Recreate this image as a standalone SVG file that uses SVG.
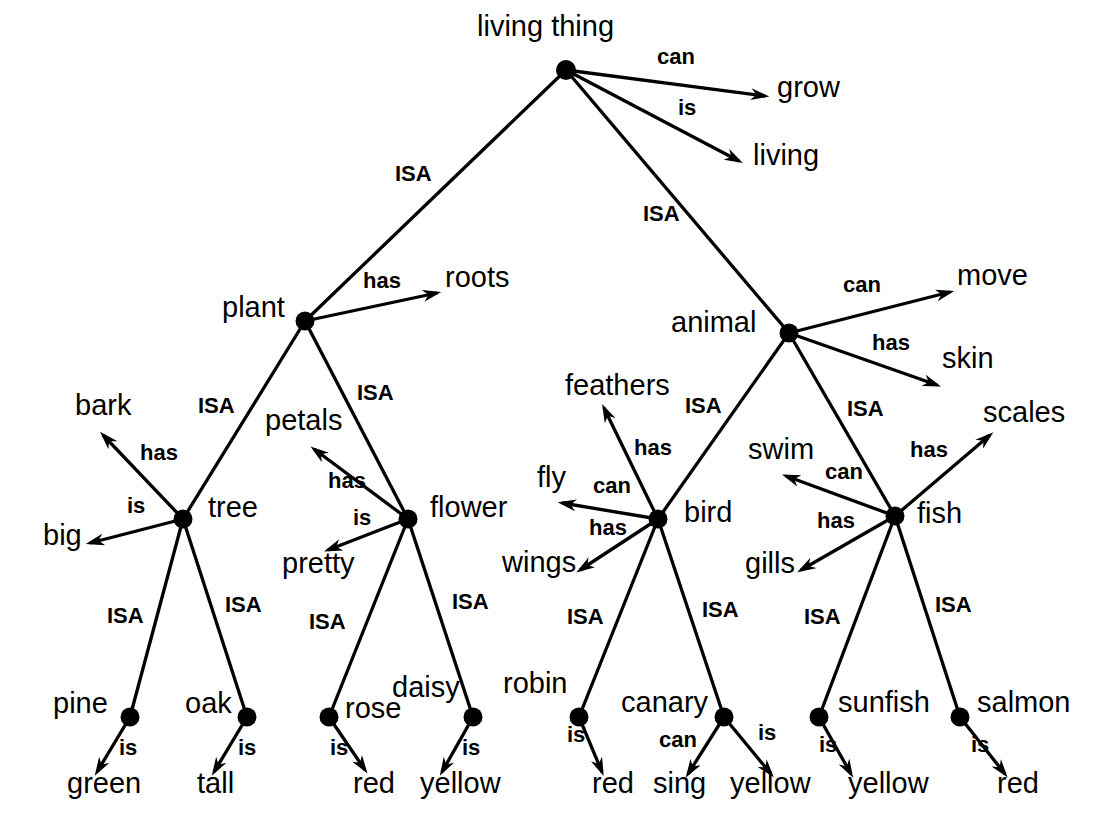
<svg xmlns="http://www.w3.org/2000/svg" width="1094" height="824" viewBox="0 0 1094 824">
<style>
.n{font-family:"Liberation Sans",Arial,sans-serif;font-size:29px;fill:#000}
.e{font-family:"Liberation Sans",Arial,sans-serif;font-size:22px;font-weight:bold;fill:#000}
.l{stroke:#000;stroke-width:3.3;fill:none}
.a{stroke:#000;stroke-width:3.3;fill:none;marker-end:url(#ar)}
.d{fill:#000}
</style>
<defs>
<marker id="ar" markerUnits="userSpaceOnUse" markerWidth="20" markerHeight="12" refX="13" refY="5.5" orient="auto" viewBox="0 0 18 11">
<path d="M0,0 L17,5.5 L0,11 L5,5.5 z" fill="#000"/>
</marker>
</defs>
<rect width="1094" height="824" fill="#fff"/>
<g id="connectors">
<line class="l" x1="566" y1="70" x2="305" y2="321"/>
<line class="l" x1="566" y1="70" x2="789" y2="333"/>
<line class="l" x1="305" y1="321" x2="183" y2="519"/>
<line class="l" x1="305" y1="321" x2="408" y2="519"/>
<line class="l" x1="789" y1="333" x2="658" y2="519"/>
<line class="l" x1="789" y1="333" x2="895" y2="516"/>
<line class="l" x1="183" y1="519" x2="130" y2="717"/>
<line class="l" x1="183" y1="519" x2="247" y2="717"/>
<line class="l" x1="408" y1="519" x2="329" y2="717"/>
<line class="l" x1="408" y1="519" x2="473" y2="717"/>
<line class="l" x1="658" y1="519" x2="579" y2="717"/>
<line class="l" x1="658" y1="519" x2="724" y2="717"/>
<line class="l" x1="895" y1="516" x2="819" y2="717"/>
<line class="l" x1="895" y1="516" x2="960" y2="717"/>
<line class="a" x1="566" y1="70" x2="765" y2="96"/>
<line class="a" x1="566" y1="70" x2="739" y2="161"/>
<line class="a" x1="305" y1="321" x2="437" y2="293"/>
<line class="a" x1="789" y1="333" x2="950" y2="292"/>
<line class="a" x1="789" y1="333" x2="937" y2="385"/>
<line class="a" x1="183" y1="519" x2="103" y2="435"/>
<line class="a" x1="183" y1="519" x2="90" y2="543"/>
<line class="a" x1="408" y1="519" x2="314" y2="449"/>
<line class="a" x1="408" y1="519" x2="328" y2="550"/>
<line class="a" x1="658" y1="519" x2="604" y2="408"/>
<line class="a" x1="658" y1="519" x2="562" y2="503"/>
<line class="a" x1="658" y1="519" x2="580" y2="570"/>
<line class="a" x1="895" y1="516" x2="990" y2="435"/>
<line class="a" x1="895" y1="516" x2="786" y2="476"/>
<line class="a" x1="895" y1="516" x2="801" y2="570"/>
<line class="a" x1="130" y1="717" x2="97" y2="772"/>
<line class="a" x1="247" y1="717" x2="214" y2="772"/>
<line class="a" x1="329" y1="717" x2="365" y2="770"/>
<line class="a" x1="473" y1="717" x2="442" y2="772"/>
<line class="a" x1="579" y1="717" x2="602" y2="772"/>
<line class="a" x1="724" y1="717" x2="688" y2="774"/>
<line class="a" x1="724" y1="717" x2="771" y2="774"/>
<line class="a" x1="819" y1="717" x2="851" y2="774"/>
<line class="a" x1="960" y1="717" x2="1005" y2="774"/>
</g>
<g id="edge-labels">
<text class="e" x="657" y="64">can</text>
<text class="e" x="678" y="115">is</text>
<text class="e" x="395" y="181">ISA</text>
<text class="e" x="643" y="221">ISA</text>
<text class="e" x="363" y="288">has</text>
<text class="e" x="843" y="292">can</text>
<text class="e" x="872" y="350">has</text>
<text class="e" x="198" y="413">ISA</text>
<text class="e" x="357" y="400">ISA</text>
<text class="e" x="685" y="413">ISA</text>
<text class="e" x="847" y="416">ISA</text>
<text class="e" x="140" y="460">has</text>
<text class="e" x="127" y="513">is</text>
<text class="e" x="328" y="488">has</text>
<text class="e" x="353" y="525">is</text>
<text class="e" x="634" y="455">has</text>
<text class="e" x="593" y="493">can</text>
<text class="e" x="589" y="535">has</text>
<text class="e" x="910" y="457">has</text>
<text class="e" x="825" y="479">can</text>
<text class="e" x="817" y="528">has</text>
<text class="e" x="107" y="623">ISA</text>
<text class="e" x="225" y="612">ISA</text>
<text class="e" x="309" y="629">ISA</text>
<text class="e" x="452" y="609">ISA</text>
<text class="e" x="567" y="624">ISA</text>
<text class="e" x="702" y="617">ISA</text>
<text class="e" x="804" y="624">ISA</text>
<text class="e" x="935" y="612">ISA</text>
<text class="e" x="119" y="755">is</text>
<text class="e" x="238" y="755">is</text>
<text class="e" x="330" y="755">is</text>
<text class="e" x="462" y="755">is</text>
<text class="e" x="567" y="742">is</text>
<text class="e" x="659" y="747">can</text>
<text class="e" x="758" y="740">is</text>
<text class="e" x="819" y="752">is</text>
<text class="e" x="971" y="752">is</text>
</g>
<g id="living-thing"><circle class="d" cx="566" cy="70" r="10"/><text class="n" x="477" y="36">living thing</text></g>
<g id="grow"><text class="n" x="777" y="97">grow</text></g>
<g id="living"><text class="n" x="753" y="165">living</text></g>
<g id="plant"><circle class="d" cx="305" cy="321" r="9.5"/><text class="n" x="222" y="317">plant</text></g>
<g id="roots"><text class="n" x="445" y="287">roots</text></g>
<g id="animal"><circle class="d" cx="789" cy="333" r="9.5"/><text class="n" x="671" y="332">animal</text></g>
<g id="move"><text class="n" x="957" y="285">move</text></g>
<g id="skin"><text class="n" x="942" y="368">skin</text></g>
<g id="tree"><circle class="d" cx="183" cy="519" r="9.5"/><text class="n" x="208" y="517">tree</text></g>
<g id="bark"><text class="n" x="75" y="415">bark</text></g>
<g id="big"><text class="n" x="43" y="545">big</text></g>
<g id="flower"><circle class="d" cx="408" cy="519" r="9.5"/><text class="n" x="430" y="517">flower</text></g>
<g id="petals"><text class="n" x="265" y="430">petals</text></g>
<g id="pretty"><text class="n" x="282" y="573">pretty</text></g>
<g id="bird"><circle class="d" cx="658" cy="519" r="9.5"/><text class="n" x="684" y="522">bird</text></g>
<g id="feathers"><text class="n" x="565" y="395">feathers</text></g>
<g id="fly"><text class="n" x="537" y="487">fly</text></g>
<g id="wings"><text class="n" x="502" y="572">wings</text></g>
<g id="fish"><circle class="d" cx="895" cy="516" r="9.5"/><text class="n" x="917" y="523">fish</text></g>
<g id="scales"><text class="n" x="983" y="422">scales</text></g>
<g id="swim"><text class="n" x="748" y="459">swim</text></g>
<g id="gills"><text class="n" x="745" y="573">gills</text></g>
<g id="pine"><circle class="d" cx="130" cy="717" r="9.5"/><text class="n" x="53" y="713">pine</text></g>
<g id="green"><text class="n" x="67" y="793">green</text></g>
<g id="oak"><circle class="d" cx="247" cy="717" r="9.5"/><text class="n" x="185" y="713">oak</text></g>
<g id="tall"><text class="n" x="197" y="793">tall</text></g>
<g id="rose"><circle class="d" cx="329" cy="717" r="9.5"/><text class="n" x="345" y="718">rose</text></g>
<g id="red1"><text class="n" x="353" y="793">red</text></g>
<g id="daisy"><circle class="d" cx="473" cy="717" r="9.5"/><text class="n" x="392" y="697">daisy</text></g>
<g id="yellow1"><text class="n" x="420" y="793">yellow</text></g>
<g id="robin"><circle class="d" cx="579" cy="717" r="9.5"/><text class="n" x="503" y="693">robin</text></g>
<g id="red2"><text class="n" x="592" y="793">red</text></g>
<g id="canary"><circle class="d" cx="724" cy="717" r="9.5"/><text class="n" x="621" y="712">canary</text></g>
<g id="sing"><text class="n" x="653" y="793">sing</text></g>
<g id="yellow2"><text class="n" x="730" y="793">yellow</text></g>
<g id="sunfish"><circle class="d" cx="819" cy="717" r="9.5"/><text class="n" x="838" y="712">sunfish</text></g>
<g id="yellow3"><text class="n" x="848" y="793">yellow</text></g>
<g id="salmon"><circle class="d" cx="960" cy="717" r="9.5"/><text class="n" x="977" y="712">salmon</text></g>
<g id="red3"><text class="n" x="997" y="793">red</text></g>
</svg>
